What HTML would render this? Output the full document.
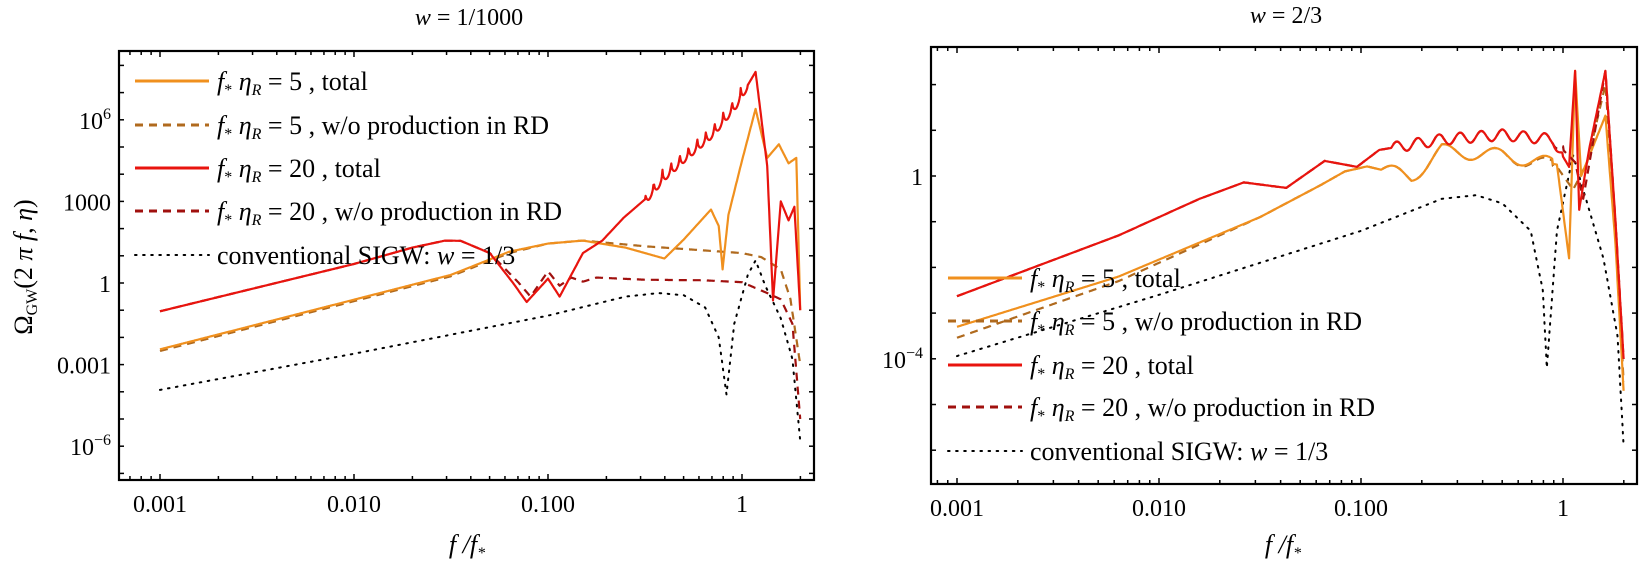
<!DOCTYPE html>
<html><head><meta charset="utf-8"><style>
body{margin:0;background:#fff;}
svg{display:block;font-family:"Liberation Serif","DejaVu Serif",serif;}
</style></head><body>
<svg id="s" width="1647" height="567" xmlns="http://www.w3.org/2000/svg">
<text x="469" y="25" font-size="24" text-anchor="middle"><tspan font-style="italic">w</tspan> = 1/1000</text>
<text x="1286" y="23" font-size="24" text-anchor="middle"><tspan font-style="italic">w</tspan> = 2/3</text>
<text x="467" y="553" font-size="26" text-anchor="middle" font-style="italic">f /f<tspan font-size="16" dy="5">*</tspan></text>
<text x="1283" y="553" font-size="26" text-anchor="middle" font-style="italic">f /f<tspan font-size="16" dy="5">*</tspan></text>
<text transform="translate(32,267) rotate(-90)" font-size="26" text-anchor="middle">Ω<tspan font-size="16" dy="5">GW</tspan><tspan dy="-5">(2 </tspan><tspan font-style="italic">π f</tspan>, <tspan font-style="italic">η</tspan>)</text>
<g id="g"></g>
</svg>
<script>
var NS="http://www.w3.org/2000/svg",G=document.getElementById('g');
function el(t,a,txt){var e=document.createElementNS(NS,t);for(var k in a)e.setAttribute(k,a[k]);if(txt!==undefined)e.textContent=txt;G.appendChild(e);return e;}
function plot(P){
 var X=function(l){return P.x0+P.dx*(l+3)},Y=function(L){return P.y1-P.dy*L};
 var cid='c'+P.id;var cp=el('clipPath',{id:cid});var r=document.createElementNS(NS,'rect');
 r.setAttribute('x',P.L);r.setAttribute('y',P.T);r.setAttribute('width',P.R-P.L);r.setAttribute('height',P.B-P.T);cp.appendChild(r);
 P.curves.forEach(function(c){
  var d='';var pts=c.pts;var out=[];
  for(var i=0;i<pts.length-1;i++){var a=pts[i],b=pts[i+1];var n=Math.max(2,Math.ceil((b[0]-a[0])*300));
   for(var j=0;j<n;j++){var t=j/n;var lf=a[0]+(b[0]-a[0])*t;var L=a[1]+(b[1]-a[1])*t;
    if(c.osc&&lf>c.osc[0]&&lf<c.osc[1]){var s=Math.sin((lf-c.osc[0])*c.osc[3]);L+=c.abs?-c.osc[2]*Math.pow(Math.abs(s),0.3)+c.osc[2]*0.8:c.osc[2]*s;}
    out.push([lf,L]);}}
  out.push(pts[pts.length-1]);
  out.forEach(function(p,i){d+=(i?'L':'M')+X(p[0]).toFixed(1)+' '+Y(p[1]).toFixed(1)});
  var at={d:d,fill:'none',stroke:c.col,'stroke-width':c.w||2.2,'clip-path':'url(#'+cid+')','stroke-linejoin':'round'};
  if(c.dash)at['stroke-dasharray']=c.dash;
  if(c.dot){at['stroke-dasharray']='1.6 6.5';at['stroke-linecap']='round';at['stroke-width']=2;}
  el('path',at);
 });
 el('rect',{x:P.L,y:P.T,width:P.R-P.L,height:P.B-P.T,fill:'none',stroke:'#000','stroke-width':2.2});
 for(var e=-4;e<=0;e++)for(var m=1;m<10;m++){var l=e+Math.log10(m);var x=X(l);if(x<P.L+2||x>P.R-2)continue;
  var len=m==1?6:4;el('line',{x1:x,x2:x,y1:P.B,y2:P.B-len,stroke:'#000','stroke-width':1.5});el('line',{x1:x,x2:x,y1:P.T,y2:P.T+len,stroke:'#000','stroke-width':1.5});}
 [[-3,'0.001'],[-2,'0.010'],[-1,'0.100'],[0,'1']].forEach(function(t){el('text',{x:X(t[0]),y:P.B+32,'font-size':24,'text-anchor':'middle'},t[1]);});
 for(var L=-9;L<=9;L++){var y=Y(L);if(y<P.T+2||y>P.B-2)continue;
  el('line',{x1:P.L,x2:P.L+5,y1:y,y2:y,stroke:'#000','stroke-width':1.5});el('line',{x1:P.R,x2:P.R-5,y1:y,y2:y,stroke:'#000','stroke-width':1.5});}
 P.ylab.forEach(function(t){var y=Y(t[0]);
  if(t[2]){var tx=el('text',{x:P.L-8,y:y+9,'font-size':24,'text-anchor':'end'});tx.innerHTML='10<tspan font-size="16" dy="-10">'+t[2]+'</tspan>';}
  else el('text',{x:P.L-8,y:y+9,'font-size':24,'text-anchor':'end'},t[1]);});
 var labs=[['5','total','#F0901E',''],['5','w/o production in RD','#B06A1E','8 6'],['20','total','#E8140E',''],['20','w/o production in RD','#A0100E','8 6']];
 P.leg.rows.forEach(function(y,i){
  var lx=P.leg.x;
  if(i<4){var a={x1:lx,x2:lx+74,y1:y,y2:y,stroke:labs[i][2],'stroke-width':3};if(labs[i][3])a['stroke-dasharray']=labs[i][3];el('line',a);
   var t=el('text',{x:lx+82,y:y+9,'font-size':26});
   t.innerHTML='<tspan font-style="italic">f</tspan><tspan font-size="16" dy="5">*</tspan><tspan dy="-5" font-style="italic"> η</tspan><tspan font-size="16" font-style="italic" dy="5">R</tspan><tspan dy="-5"> = '+labs[i][0]+' , '+labs[i][1]+'</tspan>';}
  else{el('line',{x1:lx,x2:lx+74,y1:y,y2:y,stroke:'#000','stroke-width':2,'stroke-dasharray':'1.6 6.5','stroke-linecap':'round'});
   var t=el('text',{x:lx+82,y:y+9,'font-size':26});t.innerHTML='conventional SIGW: <tspan font-style="italic">w</tspan> = 1/3';}
 });
}
plot({id:1,L:119,R:814,T:51,B:480,x0:160,dx:194,y1:283,dy:27.2,
 ylab:[[6,'',6],[3,'1000'],[0,'1'],[-3,'0.001'],[-6,'','−6']],
 leg:{x:135,rows:[81,125,168,211,255]},
 curves:[
 {col:'#000',dot:1,pts:[[-3,-3.93],[-2,-2.6],[-1,-1.2],[-0.6,-0.5],[-0.43,-0.37],[-0.3,-0.45],[-0.19,-0.9],[-0.12,-2],[-0.08,-4.1],[-0.04,-1.5],[0.03,0.3],[0.07,0.83],[0.12,-0.1],[0.2,-1.3],[0.26,-2.8],[0.3,-5.8]]},
 {col:'#B06A1E',dash:'8 6',pts:[[-3,-2.5],[-1.5,0.25],[-1.2,1.1],[-1.0,1.45],[-0.82,1.56],[-0.5,1.35],[-0.2,1.2],[0,1.1],[0.1,0.95],[0.2,0.5],[0.25,-0.6],[0.3,-3]]},
 {col:'#F0901E',pts:[[-3,-2.44],[-1.5,0.3],[-1.2,1.15],[-1.0,1.45],[-0.82,1.56],[-0.6,1.3],[-0.4,0.9],[-0.3,1.6],[-0.16,2.7],[-0.12,2.1],[-0.1,0.5],[-0.07,2.5],[0,4.5],[0.07,6.4],[0.13,4.6],[0.19,5.1],[0.24,4.4],[0.28,4.6],[0.3,-1]]},
 {col:'#A0100E',dash:'8 6',pts:[[-3,-1.04],[-2,0.7],[-1.7,1.3],[-1.53,1.56],[-1.45,1.55],[-1.3,1.1],[-1.15,0],[-1.09,-0.5],[-1.0,0.43],[-0.94,-0.1],[-0.88,0.2],[-0.82,0.05],[-0.75,0.2],[-0.5,0.12],[-0.2,0.1],[0,0.03],[0.13,-0.37],[0.2,-0.6],[0.26,-1.5],[0.3,-5]]},
 {col:'#E8140E',abs:1,osc:[-0.5,0.03,0.7,70],pts:[[-3,-1.04],[-2,0.7],[-1.7,1.3],[-1.53,1.56],[-1.45,1.55],[-1.3,1.1],[-1.18,0],[-1.11,-0.7],[-1.0,0.16],[-0.94,-0.5],[-0.82,1.1],[-0.72,1.56],[-0.61,2.4],[-0.48,3.2],[-0.4,3.9],[-0.3,4.56],[-0.15,5.5],[-0.03,6.56],[0.07,7.76],[0.13,4.3],[0.16,-0.64],[0.2,3],[0.24,2.3],[0.27,2.8],[0.3,-1]]}
 ]});
plot({id:2,L:931,R:1637,T:47,B:484,x0:957,dx:202,y1:176,dy:45.7,
 ylab:[[0,'1'],[-4,'','−4']],
 leg:{x:948,rows:[278,321,365,407,451]},
 curves:[
 {col:'#000',dot:1,pts:[[-3,-3.94],[-2,-2.6],[-1,-1.2],[-0.6,-0.5],[-0.43,-0.42],[-0.3,-0.6],[-0.16,-1.2],[-0.1,-2.5],[-0.08,-4.2],[-0.03,-1.2],[0.05,0.45],[0.1,-0.3],[0.2,-1.8],[0.27,-3.5],[0.3,-5.9]]},
 {col:'#B06A1E',dash:'8 6',osc:[-0.9,-0.05,0.15,25],pts:[[-3,-3.54],[-2.2,-2.3],[-1.5,-0.9],[-1.2,-0.2],[-1.08,0.1],[-0.97,0.21],[-0.75,-0.02],[-0.6,0.55],[-0.3,0.45],[-0.03,0.2],[0.05,-0.3],[0.12,0.3],[0.21,2.0],[0.26,-1.1],[0.3,-4.5]]},
 {col:'#F0901E',osc:[-0.9,-0.05,0.15,25],pts:[[-3,-3.3],[-2.2,-2.2],[-1.5,-0.9],[-1.2,-0.2],[-1.08,0.1],[-0.97,0.21],[-0.75,-0.02],[-0.6,0.55],[-0.3,0.45],[-0.03,0.25],[0.03,-1.8],[0.06,2.3],[0.09,0.0],[0.21,1.32],[0.26,-1.5],[0.3,-4.7]]},
 {col:'#A0100E',dash:'8 6',osc:[-0.85,0,0.12,60],pts:[[-3,-2.63],[-2.2,-1.3],[-1.8,-0.5],[-1.58,-0.14],[-1.37,-0.26],[-1.18,0.33],[-1.02,0.2],[-0.91,0.57],[-0.6,0.8],[-0.3,0.9],[-0.05,0.8],[0.06,0.3],[0.1,-0.5],[0.21,2.3],[0.26,-1],[0.3,-4]]},
 {col:'#E8140E',osc:[-0.85,0,0.12,60],pts:[[-3,-2.63],[-2.2,-1.3],[-1.8,-0.5],[-1.58,-0.14],[-1.37,-0.26],[-1.18,0.33],[-1.02,0.2],[-0.91,0.57],[-0.6,0.8],[-0.3,0.9],[-0.05,0.8],[0.03,0.2],[0.06,2.3],[0.08,-0.74],[0.13,0.6],[0.21,2.3],[0.26,-1],[0.3,-4]]}
 ]});
</script>
</body></html>
